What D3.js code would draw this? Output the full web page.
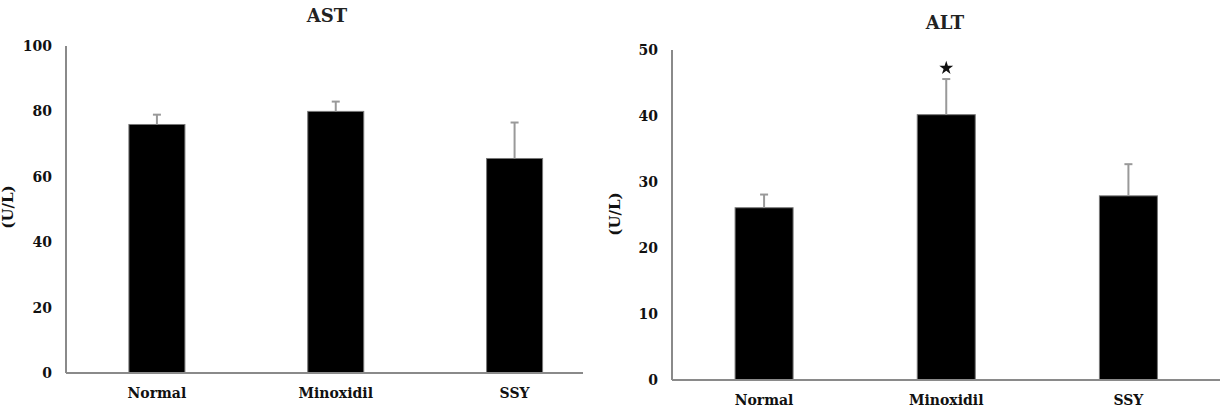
<!DOCTYPE html>
<html>
<head>
<meta charset="utf-8">
<script src="https://cdn.jsdelivr.net/npm/d3@7"></script>
<style>
  html, body { margin: 0; padding: 0; background: #fff; }
  svg { display: block; }
  text { font-family: "DejaVu Serif", "Liberation Serif", serif; }
</style>
</head>
<body>
<svg id="chart" width="1224" height="417"></svg>
<script>
// ---- data ----
const categories = ["Normal", "Minoxidil", "SSY"];
const astMean = [76, 80, 65.6];
const astErr  = [3, 3, 11];
const altMean = [26.1, 40.2, 27.9];
const altErr  = [2, 5.4, 4.8];
const astTicks = [0, 20, 40, 60, 80, 100];
const altTicks = [0, 10, 20, 30, 40, 50];
const altStars = ["", "*", ""];

const svg = d3.select("#chart");

function panel(cfg) {
  const g = svg.append("g");
  const x = d3.scalePoint().domain(categories).range(cfg.xRange).padding(0.5);
  const y = d3.scaleLinear().domain(cfg.yDomain).range(cfg.yRange);

  // y tick labels
  const ya = g.append("g")
    .attr("transform", `translate(${cfg.axisX},0)`)
    .call(d3.axisLeft(y).tickValues(cfg.ticks).tickSize(0).tickPadding(14));
  ya.select(".domain").remove();
  ya.selectAll("text")
    .attr("font-family", "DejaVu Serif")
    .attr("font-weight", "bold")
    .attr("font-size", 14)
    .attr("fill", "#111");

  // bars
  g.selectAll("rect.bar").data(cfg.mean).join("rect")
    .attr("class", "bar")
    .attr("x", (d, i) => x(categories[i]) - cfg.barW / 2)
    .attr("width", cfg.barW)
    .attr("y", d => y(d))
    .attr("height", d => y(0) - y(d))
    .attr("fill", "#000")
    .attr("stroke", "#777")
    .attr("stroke-width", 1);

  // error bars
  g.selectAll("line.err").data(cfg.mean).join("line")
    .attr("class", "err")
    .attr("x1", (d, i) => x(categories[i]))
    .attr("x2", (d, i) => x(categories[i]))
    .attr("y1", d => y(d))
    .attr("y2", (d, i) => y(d + cfg.err[i]))
    .attr("stroke", "#999").attr("stroke-width", 2);
  g.selectAll("line.cap").data(cfg.mean).join("line")
    .attr("class", "cap")
    .attr("x1", (d, i) => x(categories[i]) - 4)
    .attr("x2", (d, i) => x(categories[i]) + 4)
    .attr("y1", (d, i) => y(d + cfg.err[i]))
    .attr("y2", (d, i) => y(d + cfg.err[i]))
    .attr("stroke", "#999").attr("stroke-width", 2);

  // significance stars
  if (cfg.stars) {
    g.selectAll("path.star").data(cfg.mean).join("path")
      .attr("class", "star")
      .attr("d", (d, i) => cfg.stars[i] ? d3.symbol(d3.symbolStar, 60)() : null)
      .attr("transform", (d, i) => `translate(${x(categories[i])},${y(d + cfg.err[i]) - 11})`)
      .attr("fill", "#111");
  }

  // axes lines
  g.append("line")
    .attr("x1", cfg.axisX).attr("x2", cfg.axisX)
    .attr("y1", y(cfg.yDomain[1])).attr("y2", y(0))
    .attr("stroke", "#8a8a8a").attr("stroke-width", 2);
  g.append("line")
    .attr("x1", cfg.axisX).attr("x2", cfg.axisEnd)
    .attr("y1", y(0)).attr("y2", y(0))
    .attr("stroke", "#8a8a8a").attr("stroke-width", 2);

  // category labels
  g.selectAll("text.cat").data(categories).join("text")
    .attr("class", "cat")
    .attr("x", d => x(d))
    .attr("y", y(0) + cfg.catDy)
    .attr("text-anchor", "middle")
    .attr("font-weight", "bold")
    .attr("font-size", 14)
    .attr("fill", "#111")
    .text(d => d);

  // title
  g.append("text")
    .attr("x", cfg.titleX).attr("y", cfg.titleY)
    .attr("text-anchor", "middle")
    .attr("font-size", 18)
    .attr("font-weight", "bold")
    .attr("fill", "#222")
    .text(cfg.title);

  // y label
  g.append("text")
    .attr("transform", `translate(${cfg.ylabX},${cfg.ylabY}) rotate(-90)`)
    .attr("text-anchor", "middle")
    .attr("font-weight", "bold")
    .attr("font-size", 15)
    .attr("fill", "#111")
    .text("(U/L)");
}

panel({
  title: "AST", titleX: 327, titleY: 22,
  mean: astMean, err: astErr, ticks: astTicks,
  xRange: [67.5, 604], yDomain: [0, 100], yRange: [373, 46],
  axisX: 66, axisEnd: 583, barW: 56, catDy: 25,
  ylabX: 13, ylabY: 207
});

panel({
  title: "ALT", titleX: 945, titleY: 29,
  mean: altMean, err: altErr, ticks: altTicks, stars: altStars,
  xRange: [673, 1219.5], yDomain: [0, 50], yRange: [380, 50],
  axisX: 672, axisEnd: 1220, barW: 58, catDy: 25,
  ylabX: 620, ylabY: 214
});
</script>
</body>
</html>
